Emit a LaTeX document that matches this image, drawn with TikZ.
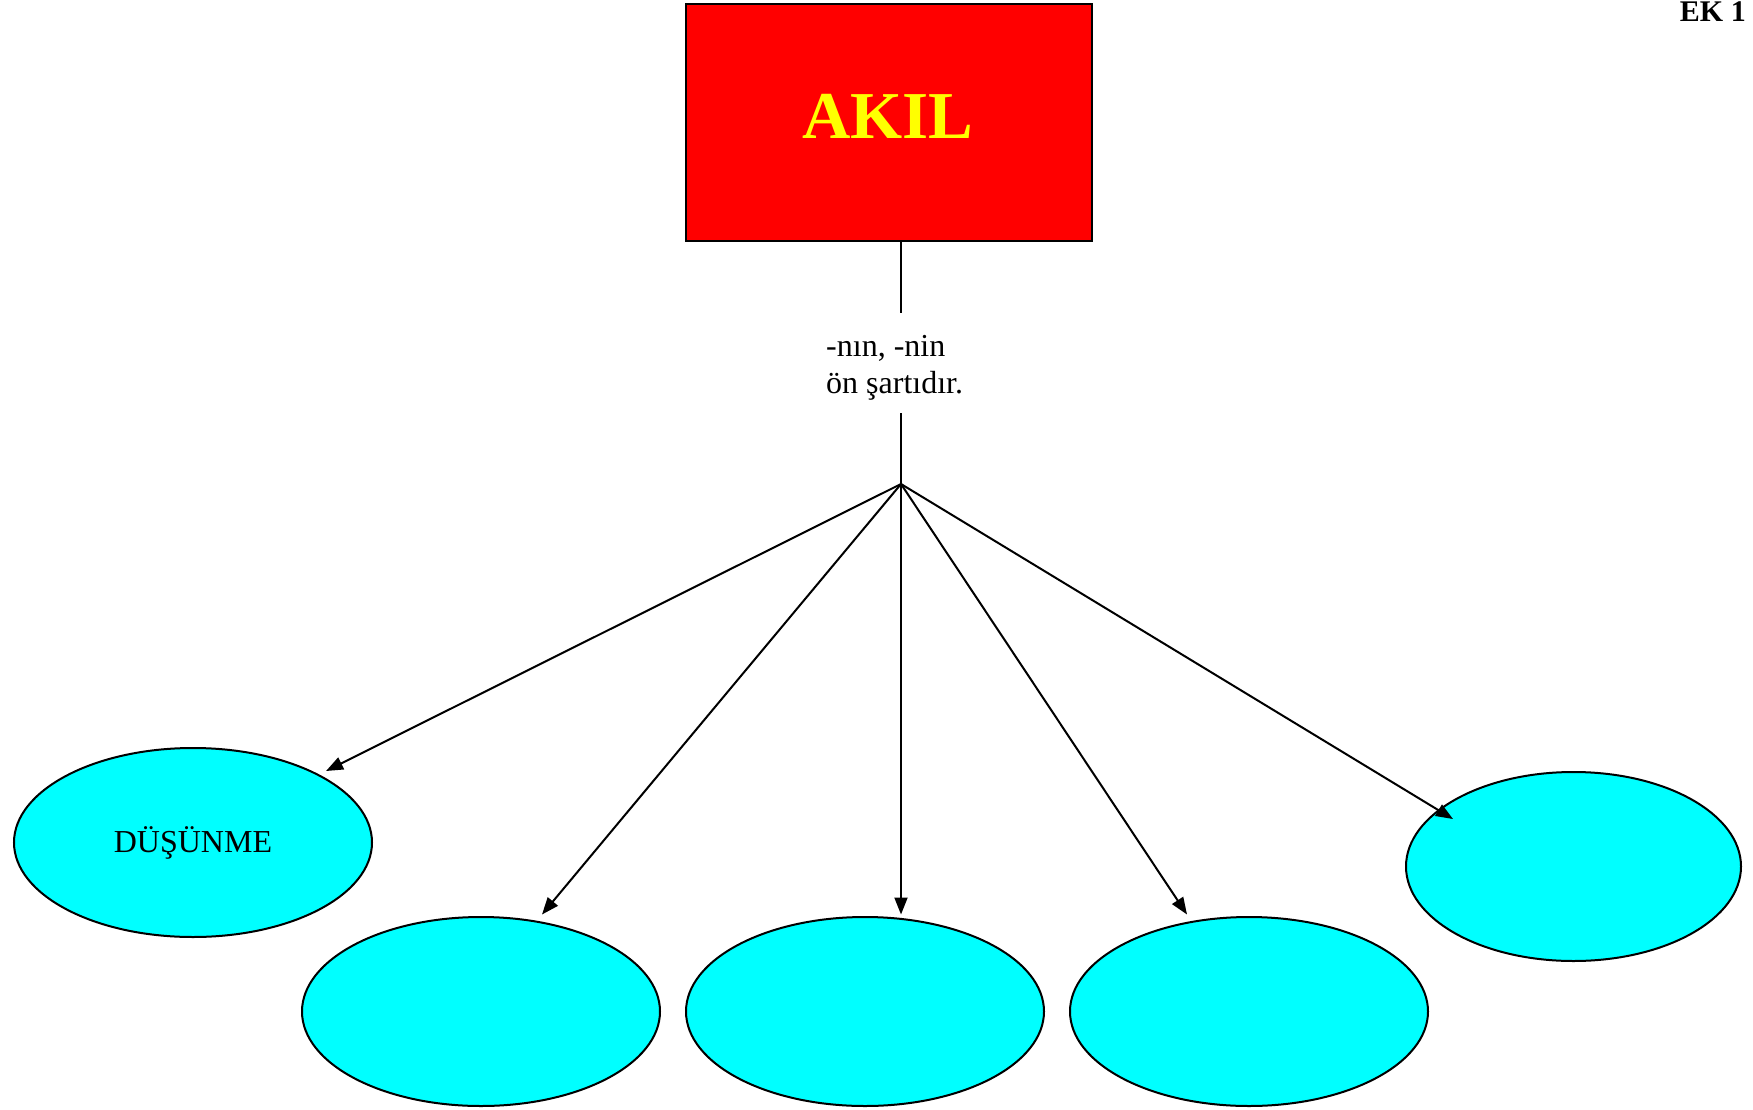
\documentclass[tikz,border=0pt]{standalone}
\usepackage{fontspec}
\setmainfont{Liberation Serif}
\usetikzlibrary{shapes.geometric,arrows.meta,calc}
\definecolor{akred}{RGB}{255,0,0}
\definecolor{akyellow}{RGB}{255,255,0}
\definecolor{akcyan}{RGB}{0,255,255}
\begin{document}
\begin{tikzpicture}[x=1pt,y=-1pt,
  bubble/.style={ellipse,draw=black,line width=2pt,fill=akcyan,inner sep=0pt,
    minimum width=358pt,minimum height=189pt,font=\fontsize{32}{37}\selectfont},
  conn/.style={line width=2pt},
  arr/.style={line width=2pt,-{Triangle[length=17pt,width=13pt]}}]
\useasboundingbox (0,0) rectangle (1753,1110);
% top box
\node[draw=black,line width=2.5pt,fill=akred,minimum width=406pt,minimum height=237pt,inner sep=0pt] (akil) at (889,122.5) {};
\node[anchor=base,inner sep=0pt,text=akyellow,font=\fontsize{67}{70}\selectfont\bfseries] (akilt) at (888,139) {AKIL};
% EK 1
\node[anchor=base east,inner sep=0pt,font=\fontsize{30}{34}\selectfont\bfseries] (ek) at (1746,22) {EK 1};
% label
\node[anchor=base west,inner sep=0pt,align=left,font=\fontsize{32}{37}\selectfont] (lbl) at (826,356) {-nın, -nin};
\node[anchor=base west,inner sep=0pt,align=left,font=\fontsize{32}{37}\selectfont] (lbl2) at (826,393) {ön şartıdır.};
\coordinate (j) at (901,484);
\coordinate (la) at (901,313);
\coordinate (lb) at (901,413);
\draw[conn] (j |- akil.south) -- (la);
\draw[conn] (lb) -- (j);
% ellipses
\node[bubble] (e1) at (193,842.5) {DÜŞÜNME};
\node[bubble] (e2) at (481,1011.5) {};
\node[bubble] (e3) at (865,1011.5) {};
\node[bubble] (e4) at (1249,1011.5) {};
\node[bubble,minimum width=335pt] (e5) at (1573.5,866.5) {};
% arrow tips
\coordinate (t1) at ($(e1.center)+(133,-71.5)$);
\coordinate (t2) at ($(e2.center)+(61,-97)$);
\coordinate (t3) at ($(e3.center)+(36,-97)$);
\coordinate (t4) at ($(e4.center)+(-62,-97)$);
\coordinate (t5) at ($(e5.center)+(-120.5,-47.5)$);
\draw[arr] (j) -- (t1);
\draw[arr] (j) -- (t2);
\draw[arr] (j) -- (t3);
\draw[arr] (j) -- (t4);
\draw[arr] (j) -- (t5);
\end{tikzpicture}
\end{document}
